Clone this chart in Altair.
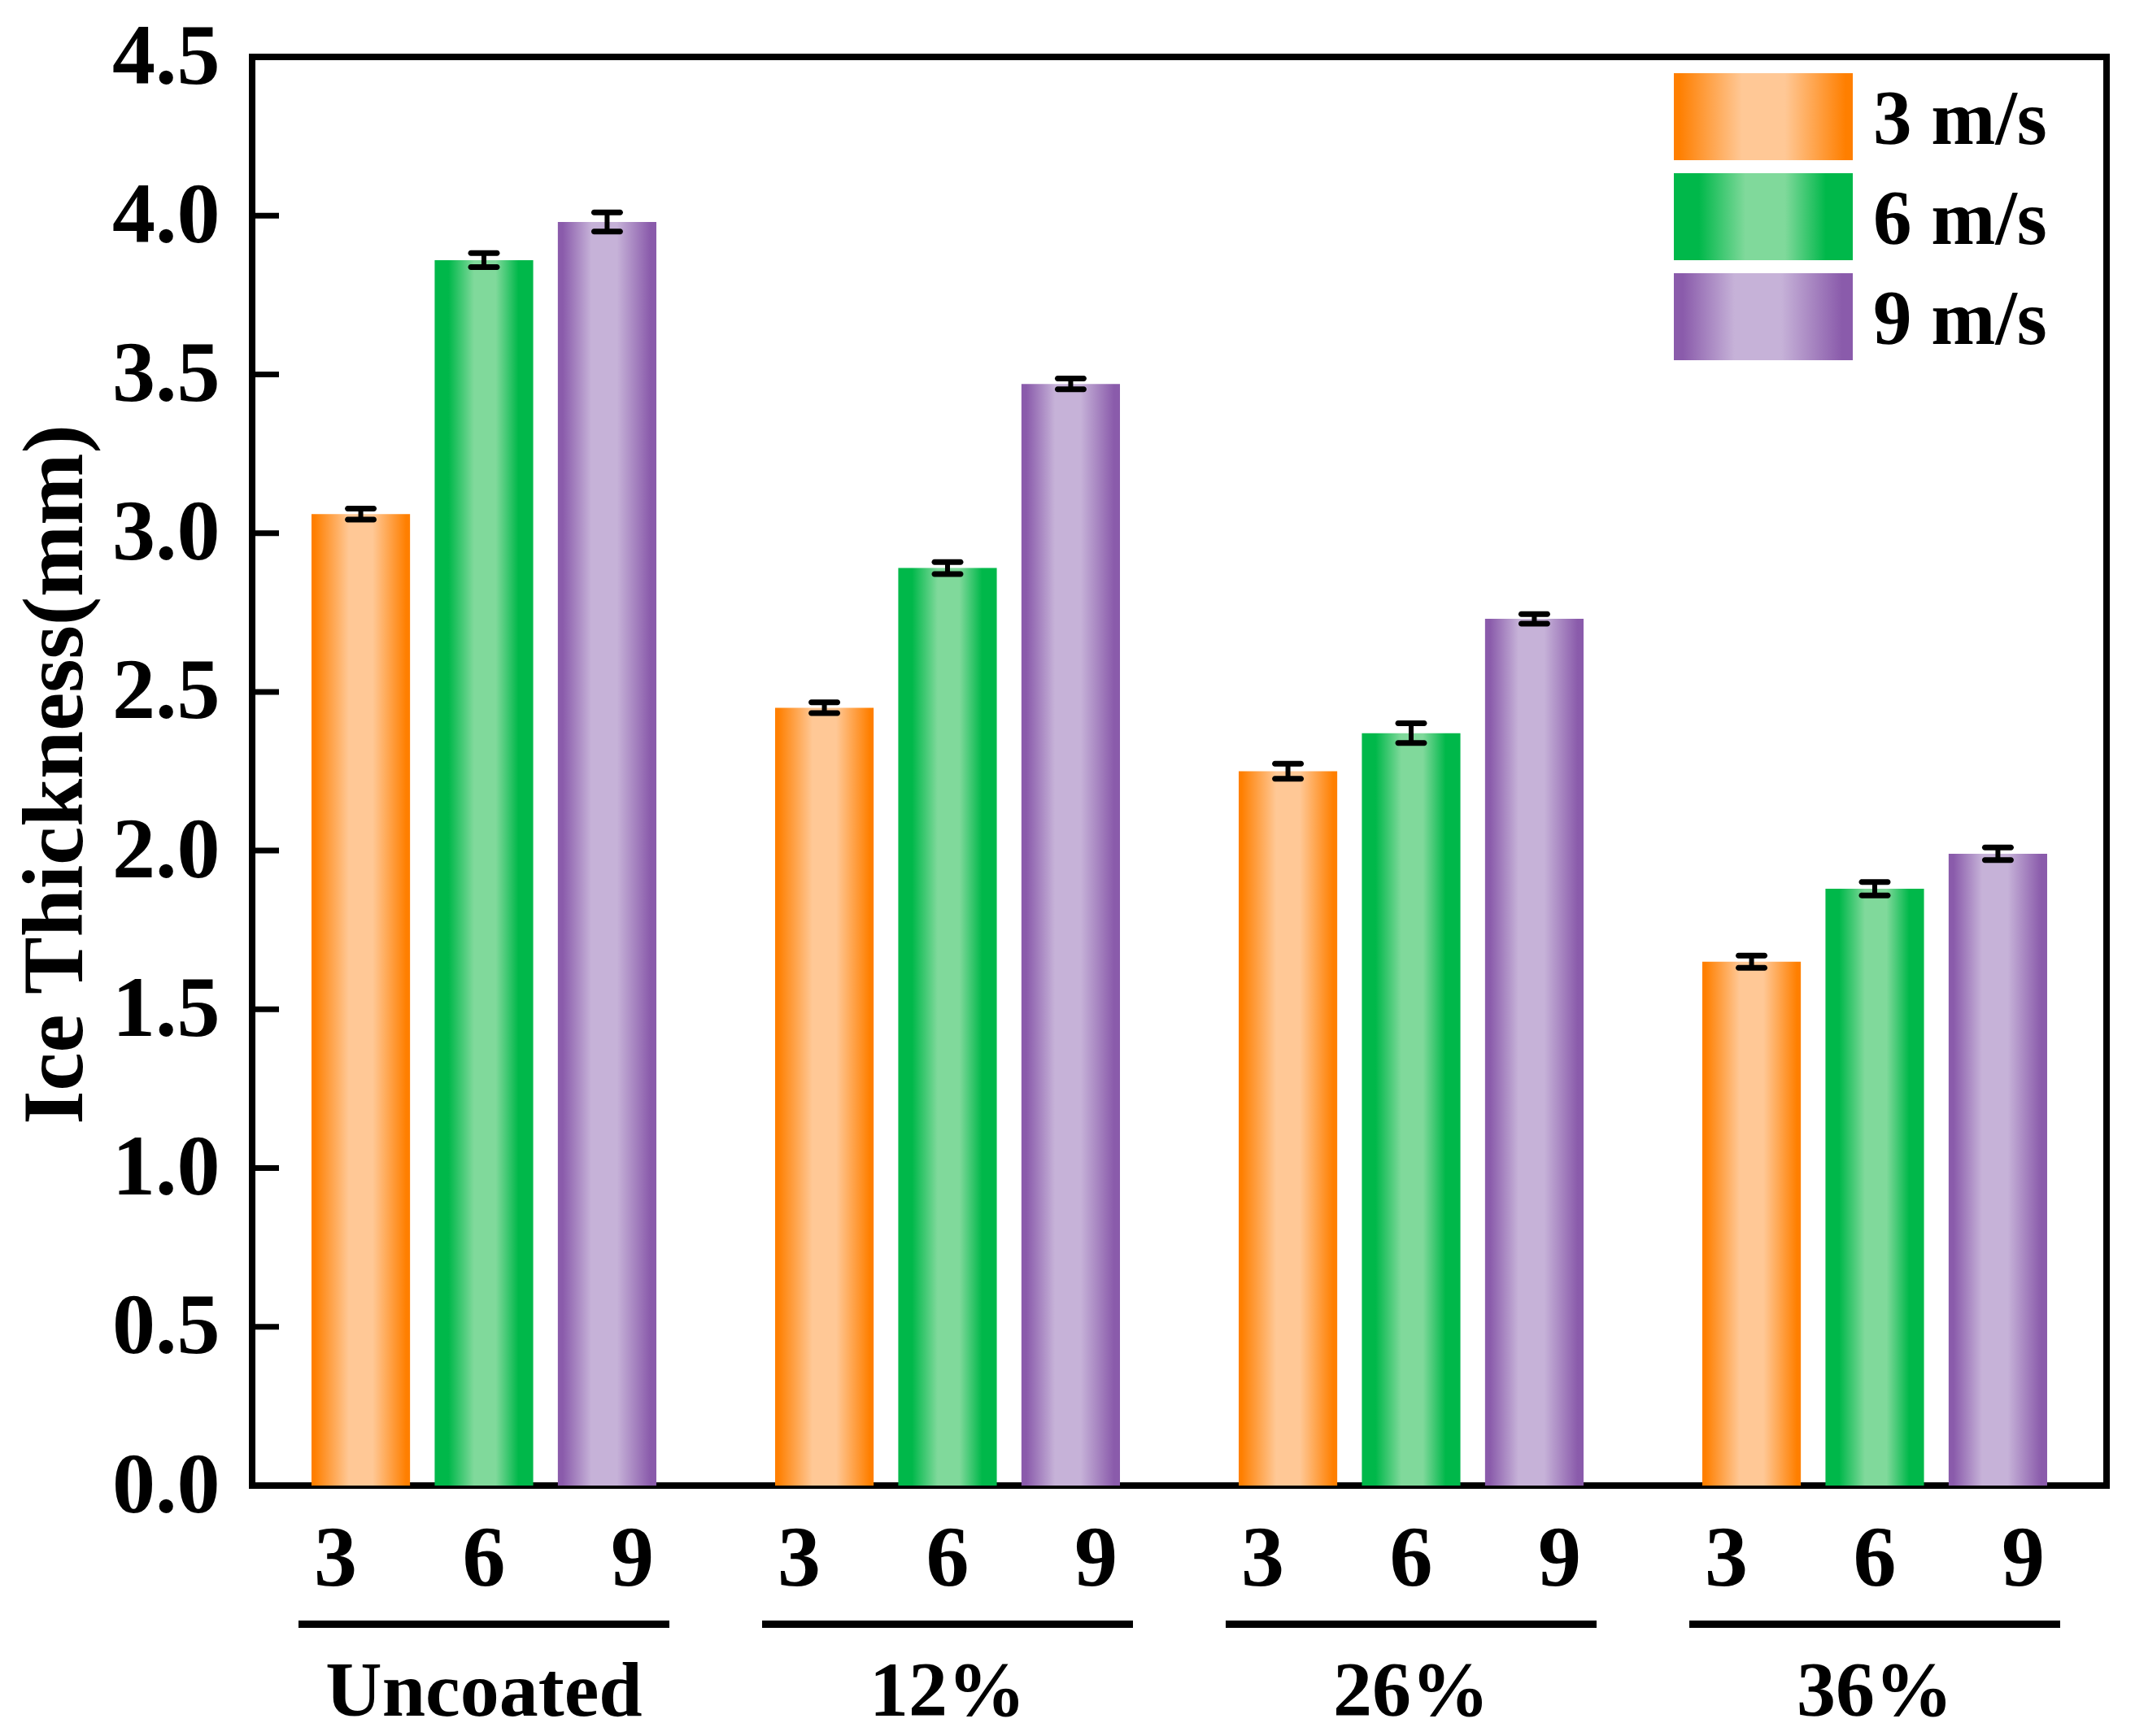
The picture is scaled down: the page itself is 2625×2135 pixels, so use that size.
import altair as alt
import pandas as pd

groups = ["Uncoated", "12%", "26%", "36%"]
speeds = ["3", "6", "9"]
legend_labels = ["3 m/s", "6 m/s", "9 m/s"]

thickness_3 = [3.06, 2.45, 2.25, 1.65]
thickness_6 = [3.86, 2.89, 2.37, 1.88]
thickness_9 = [3.98, 3.47, 2.73, 1.99]
error_3 = [0.017, 0.017, 0.024, 0.019]
error_6 = [0.022, 0.019, 0.031, 0.021]
error_9 = [0.030, 0.017, 0.015, 0.020]

y_ticks = [0.0, 0.5, 1.0, 1.5, 2.0, 2.5, 3.0, 3.5, 4.0, 4.5]

W, H = 2280, 1757
FONT = "Liberation Serif"

rows = []
for s, vals, errs in zip(speeds, [thickness_3, thickness_6, thickness_9], [error_3, error_6, error_9]):
    for g, v, e in zip(groups, vals, errs):
        rows.append({"group": g, "speed": s, "value": v, "lo": v - e, "hi": v + e})
df = pd.DataFrame(rows)
groups_df = pd.DataFrame({"group": groups})
ticks_df = pd.DataFrame({"tick": y_ticks})


def grad(dark, light, stops):
    a, b, c, d = stops
    return alt.LinearGradient(
        gradient="linear",
        x1=0, x2=1, y1=0, y2=0,
        stops=[
            alt.GradientStop(color=dark, offset=0),
            alt.GradientStop(color=dark, offset=a),
            alt.GradientStop(color=light, offset=b),
            alt.GradientStop(color=light, offset=c),
            alt.GradientStop(color=dark, offset=d),
            alt.GradientStop(color=dark, offset=1),
        ],
    )


fills = {
    "3": grad("#FF7F00", "#FFC896", (0.03, 0.38, 0.62, 0.96)),
    "6": grad("#00B84A", "#80D99B", (0.14, 0.40, 0.62, 0.85)),
    "9": grad("#8A5BAB", "#C6B2D8", (0.05, 0.34, 0.60, 0.94)),
}

x_enc = alt.X("group:N", axis=None, scale=alt.Scale(domain=groups, paddingInner=0, paddingOuter=0))
xoff_enc = alt.XOffset(
    "speed:N", scale=alt.Scale(domain=speeds, paddingInner=0.2, paddingOuter=0.482)
)
y_scale = alt.Scale(domain=[0, 4.5], nice=False, zero=True)

base = alt.Chart(df)

layers = []
for s in speeds:
    layers.append(
        base.transform_filter(alt.datum.speed == s)
        .mark_bar(color=fills[s])
        .encode(
            x=x_enc,
            xOffset=xoff_enc,
            y=alt.Y(
                "value:Q",
                scale=y_scale,
                axis=alt.Axis(
                    values=y_ticks,
                    format=".1f",
                    title="Ice Thickness(mm)",
                    domain=False,
                    ticks=False,
                    tickSize=0,
                    grid=False,
                    labelFont=FONT,
                    labelFontWeight="bold",
                    labelFontSize=106,
                    labelColor="black",
                    labelPadding=40,
                    titleFont=FONT,
                    titleFontWeight="bold",
                    titleFontSize=106,
                    titleColor="black",
                    titleAngle=-90,
                    titleX=-242,
                    titleY=882,
                    titleAlign="center",
                    titleBaseline="middle",
                ),
            ),
        )
    )

# inward y ticks
layers.append(
    alt.Chart(ticks_df)
    .mark_rule(color="black", strokeWidth=7)
    .encode(y=alt.Y("tick:Q", scale=y_scale), x=alt.value(0), x2=alt.value(33))
)

# error bars
layers.append(
    base.mark_rule(color="black", strokeWidth=6).encode(
        x=x_enc, xOffset=xoff_enc, y=alt.Y("lo:Q", scale=y_scale), y2="hi:Q"
    )
)
for col in ["lo", "hi"]:
    layers.append(
        base.mark_tick(color="black", thickness=7, size=39, cornerRadius=3.5, opacity=1).encode(
            x=x_enc, xOffset=xoff_enc, y=alt.Y(f"{col}:Q", scale=y_scale)
        )
    )

# speed labels under bars, spread a little wider than the bars
for s, shift in zip(speeds, [-31, 0, 31]):
    layers.append(
        base.transform_filter(alt.datum.speed == s)
        .mark_text(
            font=FONT, fontWeight="bold", fontSize=106, baseline="alphabetic", color="black", dx=shift
        )
        .encode(x=x_enc, xOffset=xoff_enc, y=alt.value(H + 123), text="speed:N")
    )

# group underline and names
layers.append(
    alt.Chart(groups_df)
    .mark_bar(color="black", width=alt.RelativeBandSize(0.80))
    .encode(x=x_enc, y=alt.value(H + 166), y2=alt.value(H + 175))
)
layers.append(
    alt.Chart(groups_df)
    .mark_text(font=FONT, fontWeight="bold", fontSize=96, baseline="alphabetic", color="black")
    .encode(x=x_enc, text="group:N", y=alt.value(H + 283))
)

# legend
for i, (s, label) in enumerate(zip(speeds, legend_labels)):
    top = 20 + i * 123
    leg = alt.Chart(pd.DataFrame({"label": [label]}))
    layers.append(
        leg.mark_rect(color=fills[s]).encode(
            x=alt.value(1748), x2=alt.value(1968), y=alt.value(top), y2=alt.value(top + 107)
        )
    )
    layers.append(
        leg.mark_text(
            font=FONT, fontWeight="bold", fontSize=95, align="left", baseline="alphabetic", color="black"
        ).encode(x=alt.value(1993), y=alt.value(top + 87), text="label:N")
    )

chart = (
    alt.layer(*layers)
    .properties(
        width=W,
        height=H,
        padding={"left": 302, "top": 62, "right": 15, "bottom": 306},
        autosize=alt.AutoSizeParams(type="none"),
        background="white",
    )
    .configure_view(stroke="black", strokeWidth=8)
)

chart.save("out.html", embed_options={"renderer": "svg", "actions": False})
